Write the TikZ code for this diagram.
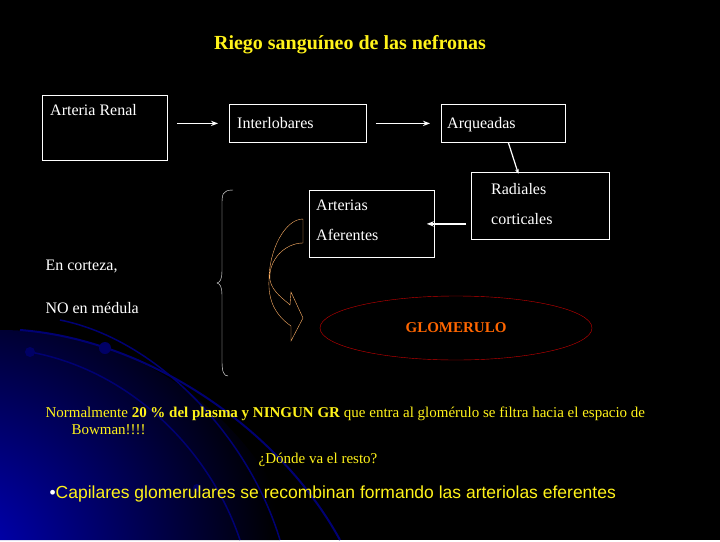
\documentclass[tikz,border=0pt]{standalone}
\usepackage{fontspec}
\setmainfont{Liberation Serif}
\setsansfont{Liberation Sans}
\usetikzlibrary{arrows.meta,shapes.geometric}
\begin{document}
\begin{tikzpicture}[x=1pt,y=-1pt,
  bx/.style={draw=white,thick,fill=black,anchor=north west,inner sep=0pt},
  lb/.style={text=white,anchor=north west,align=left,inner sep=0pt,font=\fontsize{16}{30}\selectfont},
  ar/.style={white,very thick,-{Stealth[length=7pt]}},
  tx/.style={text=white,anchor=west,font=\fontsize{16}{18}\selectfont},
  yl/.style={text=yellow!90!white,font=\fontsize{15}{17}\selectfont}]
\fill[black] (0,0) rectangle (720,540);
\begin{scope}
\clip (0,540) -- (0,330) .. controls (150,330) and (260,430) .. (300,540) -- cycle;
\shade[inner color=blue!75!black,outer color=black] (-40,560) circle (320);
\end{scope}
\draw[blue!45!black,line width=2pt] (20,330) .. controls (150,340) and (280,430) .. (340,540);
\draw[blue!45!black,line width=1.5pt] (30,352) .. controls (130,370) and (210,450) .. (240,540);
\draw[blue!45!black,line width=1.5pt] (60,320) .. controls (160,340) and (250,440) .. (280,540);
\fill[blue!40!black] (30,352) circle (5) (105,348) circle (6) (197,488) circle (4);
\node[yl,font=\fontsize{20}{22}\selectfont\bfseries] (title) at (350,45) {Riego sanguíneo de las nefronas};
\node[bx,minimum width=125pt,minimum height=65pt] (renal) at (42,95) {};
\node[lb] (renalt) at (50,104) {Arteria Renal};
\node[bx,minimum width=137pt,minimum height=38pt] (inter) at (229,104) {};
\node[lb] (intert) at (237,117) {Interlobares};
\node[bx,minimum width=124pt,minimum height=38pt] (arq) at (441,104) {};
\node[lb] (arqt) at (447,117) {Arqueadas};
\node[bx,minimum width=138pt,minimum height=67pt] (rad) at (471,172) {};
\node[lb] (radt) at (491,183) {Radiales\\corticales};
\node[bx,minimum width=125pt,minimum height=67pt] (afe) at (309,190) {};
\node[lb] (afet) at (316,200) {Arterias\\Aferentes};
\node[draw=red!80!black,ellipse,minimum width=272pt,minimum height=64pt,text=orange!80!red,font=\fontsize{15}{16}\selectfont\bfseries] (glo) at (456,328) {GLOMERULO};
\draw[ar] ([xshift=9pt]renal.east|-inter.west) -- ([xshift=-11pt]inter.west);
\draw[ar] ([xshift=9pt]inter.east) -- ([xshift=-11pt]arq.west);
\draw[ar,-{Stealth[length=5pt]}] ([xshift=5pt]arq.south) -- ([xshift=-22pt,yshift=-2pt]rad.north);
\draw[ar] ([xshift=-5pt]rad.west|-afe.east) -- ([xshift=-8pt]afe.east);
\node[tx] (corteza) at (42,266) {En corteza,};
\node[tx] (medula) at (42,308) {NO en médula};
\draw[white] (233,190) .. controls (222,190) and (222,195) .. (222,205) -- (222,270) .. controls (222,280) and (220,282) .. (217,283) .. controls (220,284) and (222,286) .. (222,296) -- (222,362) .. controls (222,372) and (224,376) .. (228,376);
\draw[orange!60!white] (303,219) -- (303,243) .. controls (285,243) and (268,260) .. (270,280) .. controls (272,292) and (285,300) .. (290,305) -- (291,292) -- (303,318) -- (291,341) -- (291,326) .. controls (275,315) and (268,300) .. (269,280) .. controls (269,250) and (285,219) .. cycle;
\node[yl,anchor=west,align=left] (norm) at (42,421) {Normalmente \textbf{20 \% del plasma y NINGUN GR} que entra al glomérulo se filtra hacia el espacio de\\\hspace*{26pt}Bowman!!!!};
\node[yl] (donde) at (318,460) {¿Dónde va el resto?};
\node[yl,anchor=west,font=\fontsize{17.5}{20}\selectfont\sffamily] (cap) at (46,494) {\textcolor{white}{\textbullet}Capilares glomerulares se recombinan formando las arteriolas eferentes};
\end{tikzpicture}
\end{document}
